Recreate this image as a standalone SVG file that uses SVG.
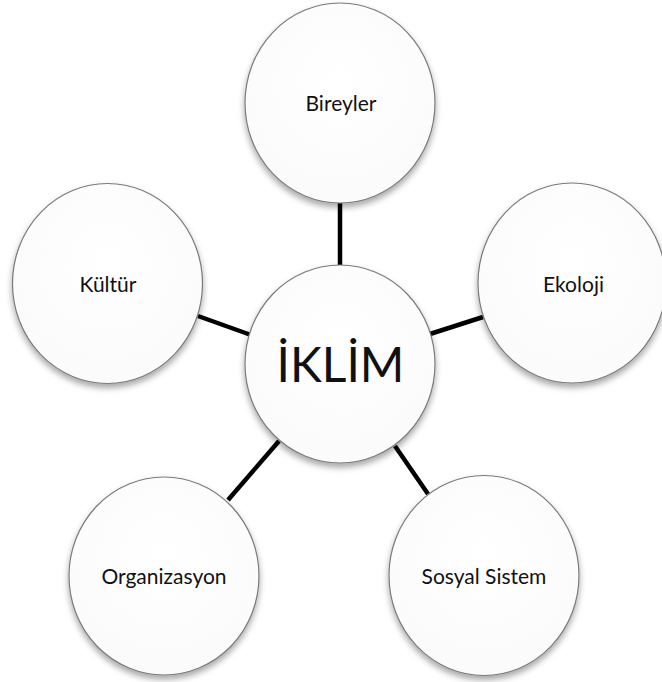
<svg xmlns="http://www.w3.org/2000/svg" width="662" height="682" viewBox="0 0 662 682">
<style>
.node ellipse{fill:url(#g);stroke:#7a7a7a;stroke-width:1.2;filter:url(#sh)}
.lbl{font-family:Lato,"Open Sans",sans-serif;font-size:21px;fill:#111;text-anchor:middle}
.big{font-size:48px}
.con line{stroke:#000;stroke-width:4.5;stroke-linecap:butt}
</style>
<defs>
<radialGradient id="g" cx="50%" cy="40%" r="60%">
<stop offset="0" stop-color="#ffffff"/>
<stop offset="1" stop-color="#fbfbfb"/>
</radialGradient>
<filter id="sh" x="-20%" y="-20%" width="140%" height="150%">
<feDropShadow dx="0" dy="4" stdDeviation="3" flood-color="#000" flood-opacity="0.35"/>
</filter>
</defs>
<rect width="662" height="682" fill="#fff"/>
<g id="connectors" class="con">
<line x1="340" y1="200" x2="340" y2="268"/>
<line x1="198" y1="316" x2="251" y2="335"/>
<line x1="430" y1="334" x2="483" y2="317"/>
<line x1="279" y1="441" x2="228" y2="500"/>
<line x1="395" y1="446" x2="428" y2="494"/>
</g>
<g id="bireyler" class="node"><ellipse cx="340" cy="103" rx="95" ry="100"/><text class="lbl" x="341" y="111">Bireyler</text></g>
<g id="kultur" class="node"><ellipse cx="107.5" cy="283.5" rx="95" ry="100"/><text class="lbl" x="108" y="292">Kültür</text></g>
<g id="ekoloji" class="node"><ellipse cx="572" cy="283" rx="94" ry="100"/><text class="lbl" x="573.5" y="292">Ekoloji</text></g>
<g id="organizasyon" class="node"><ellipse cx="164" cy="576" rx="95" ry="99"/><text class="lbl" x="164" y="584">Organizasyon</text></g>
<g id="sosyal" class="node"><ellipse cx="484" cy="575.5" rx="95" ry="100"/><text class="lbl" x="484" y="584">Sosyal Sistem</text></g>
<g id="iklim" class="node"><ellipse cx="340" cy="364" rx="95" ry="99"/><text class="lbl big" x="340.5" y="382">İKLİM</text></g>
</svg>
